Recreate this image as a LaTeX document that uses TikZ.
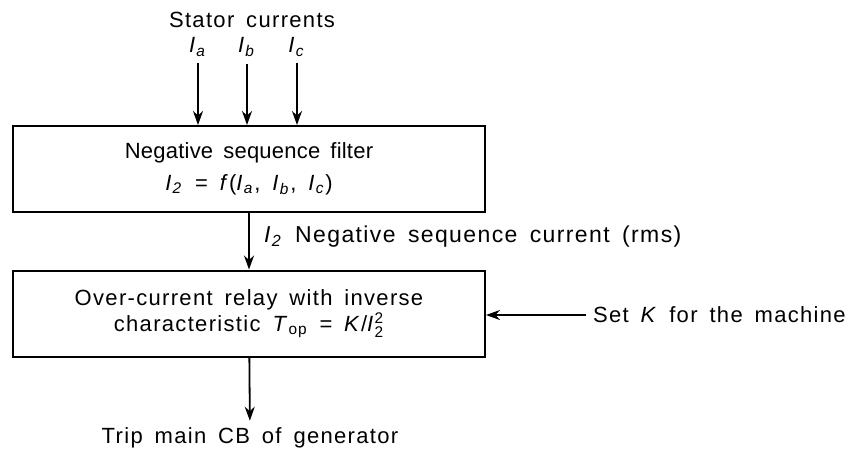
\documentclass[tikz,border=0pt]{standalone}
\usepackage{amsmath}
\usepackage{fontspec}
\setmainfont{Liberation Sans}[LetterSpace=6,WordSpace=1.6]
\usetikzlibrary{arrows.meta,positioning}
\newcommand{\cur}[1]{\textit{I}\textsubscript{\textit{#1}}}

\begin{document}
\begin{tikzpicture}[x=.5pt,y=-.5pt,>={Stealth[length=7pt,width=5pt]},
  every node/.style={font=\fontsize{11}{13}\selectfont},
  blk/.style={draw,line width=1pt,minimum width=236pt,minimum height=43pt,align=center},
  arr/.style={->,line width=.9pt}]
\useasboundingbox (0,0) rectangle (854,451);
\node (stat) at (252,20) {Stator currents};
\node (ia) at (198,47) {\cur{a}};
\node (ib) at (247,47) {\cur{b}};
\node (ic) at (297,47) {\cur{c}};
\node[blk] (filt) at (249,169) {{\addfontfeature{LetterSpace=1}Negative sequence filter}\\[3pt]
  \cur{2} = \textit{f}(\cur{a}, \cur{b}, \cur{c})};
\node[blk] (relay) at (249,313.5) {Over-current relay with inverse\\
  characteristic \textit{T}\textsubscript{op} = \textit{K}/\textit{I}$^{\textrm{2}}_{\textrm{2}}$};
\node[anchor=west,font=\fontsize{11.5}{13}\selectfont] (neg) at (257,237) {\cur{2} Negative sequence current (rms)};
\node[anchor=west] (setk) at (586,315) {Set \textit{K} for the machine};
\node (trip) at (250,438) {Trip main CB of generator};
\foreach \n in {ia,ib,ic}\draw[arr] (\n) -- (\n |- filt.north);
\draw[arr] (filt) -- (relay);
\draw[arr] (setk) -- (setk -| relay.east);
\draw[arr] (relay) -- (trip);
\end{tikzpicture}
\end{document}
